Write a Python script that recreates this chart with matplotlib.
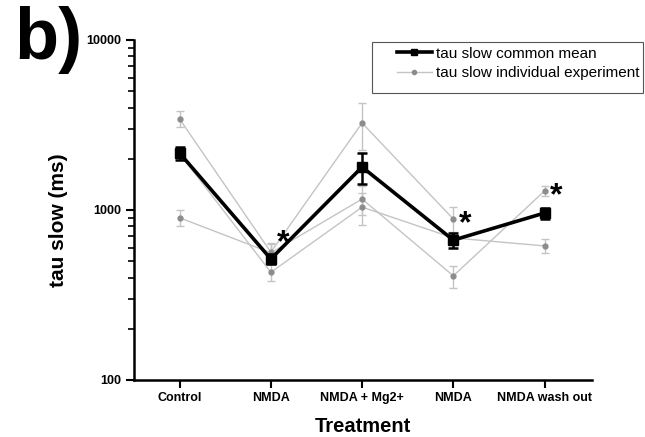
#!/usr/bin/env python3
# -*- coding: utf-8 -*-
"""
Grafico tau slow por tratamento (media comum + experimentos individuais).
"""
import numpy as np
import matplotlib
matplotlib.use("Agg")
import matplotlib.pyplot as plt
from matplotlib.patches import Rectangle
from matplotlib.ticker import LogLocator, NullFormatter, FixedLocator

plt.rcParams['font.family'] = ['Liberation Sans', 'DejaVu Sans']

# dados
tratamentos = ["Control", "NMDA", "NMDA + Mg2+", "NMDA", "NMDA wash out"]

media = [2160, 515, 1790, 665, 960]
media_err = [190, 35, 375, 70, 70]

# experimentos individuais (None = sem medida)
exp_a = [3430, 565, 3250, 885, None]
exp_a_err = [370, 75, 1000, 150, None]
exp_b = [900, 560, 1160, 410, 1295]
exp_b_err = [100, 70, 220, 60, 90]
exp_c = [2150, 430, 1040, 685, 615]
exp_c_err = [150, 50, 220, 60, 58]

# asteriscos de significancia (indice do tratamento, altura)
estrela_idx = [1, 3, 4]
estrela_y = [690, 890, 1300]


def gerar_grafico():
    fig = plt.figure(figsize=(6.45, 4.37), dpi=100)
    ax = fig.add_axes([134 / 645, 1 - 380 / 437, (592 - 134) / 645, 340 / 437])

    x = np.arange(len(tratamentos))

    # experimentos individuais
    for vals, errs in [(exp_a, exp_a_err), (exp_b, exp_b_err), (exp_c, exp_c_err)]:
        xs = [xi for xi, v in zip(x, vals) if v is not None]
        ys = [v for v in vals if v is not None]
        es = [e for e in errs if e is not None]
        ax.errorbar(xs, ys, yerr=es, color="#c4c4c4", lw=1.0, marker="o",
                    ms=3.5, mfc="#8c8c8c", mec="#8c8c8c", ecolor="#c4c4c4",
                    elinewidth=1.0, capsize=2.8, capthick=1.0, zorder=2,
                    label="_nolegend_")

    # media comum
    ax.errorbar(x, media, yerr=media_err, color="black", lw=2.6, marker="s",
                ms=6.5, ecolor="black", elinewidth=1.8, capsize=3.5,
                capthick=1.8, zorder=5)

    # asteriscos
    for i, yv in zip(estrela_idx, estrela_y):
        ax.annotate("*", xy=(x[i], yv), xytext=(4, -4), textcoords="offset points",
                    ha="left", va="center", fontsize=23, fontweight="bold")

    ax.set_yscale("log")
    ax.set_ylim(100, 10000)
    ax.set_xlim(-0.5, 4.52)
    ax.yaxis.set_major_locator(FixedLocator([100, 1000, 10000]))
    ax.yaxis.set_minor_locator(LogLocator(base=10, subs=np.arange(2, 10)))
    ax.yaxis.set_minor_formatter(NullFormatter())
    ax.set_yticklabels(["100", "1000", "10000"])
    ax.set_xticks(x)
    ax.set_xticklabels(tratamentos)

    for lab in ax.get_xticklabels() + ax.get_yticklabels():
        lab.set_fontweight("bold")
        lab.set_fontsize(9)

    ax.tick_params(axis="both", which="major", direction="out", length=6,
                   width=1.5, pad=3)
    ax.tick_params(axis="y", which="minor", direction="out", length=4, width=1.2)
    ax.tick_params(axis="x", pad=2.5)

    for s in ["top", "right"]:
        ax.spines[s].set_visible(False)
    for s in ["left", "bottom"]:
        ax.spines[s].set_linewidth(1.8)

    ax.set_ylabel("tau slow (ms)", fontsize=15, fontweight="bold")
    ax.yaxis.set_label_coords(-0.145, 0.47)
    ax.set_xlabel("Treatment", fontsize=14.5, fontweight="bold", labelpad=9.5)

    # legenda
    fig.patches.append(Rectangle((372 / 645, 1 - 93 / 437), (643 - 372) / 645,
                                 51 / 437, transform=fig.transFigure,
                                 fill=False, ec="#555555", lw=0.8))
    h1, = ax.plot([], [], color="black", lw=2.6, marker="s", ms=5)
    h2, = ax.plot([], [], color="#c4c4c4", lw=1.0, marker="o", ms=3,
                  mfc="#8c8c8c", mec="#8c8c8c")
    fig.legend([h1, h2], ["tau slow common mean", "tau slow individual experiment"],
               loc="upper left", bbox_to_anchor=(386 / 645, 1 - 36 / 437),
               frameon=False, fontsize=11, handlelength=2.3, handletextpad=0.25,
               labelspacing=0.35, borderpad=0.2)

    fig.text(14 / 645, 1 - 6 / 437, "b)", fontsize=52, fontweight="bold",
             ha="left", va="top")

    fig.savefig("out.png", dpi=100)
    plt.close(fig)


if __name__ == "__main__":
    gerar_grafico()
